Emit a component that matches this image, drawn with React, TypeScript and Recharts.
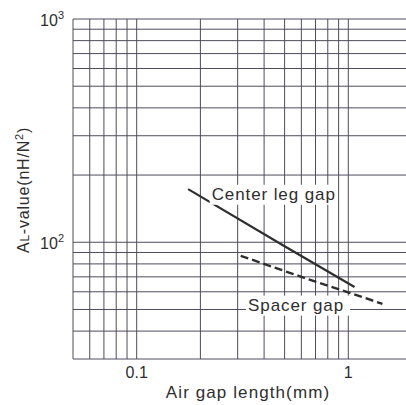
import {
  LineChart,
  Line,
  XAxis,
  YAxis,
  CartesianGrid,
  ReferenceDot,
  Label,
} from 'recharts'

// gap length (mm) vs AL-value (nH/N^2)
const centerGapLength = [0.175, 0.5, 1.07]
const centerGapAL = [173, 96, 63]
const spacerGapLength = [0.31, 0.6, 1.45]
const spacerGapAL = [87, 70, 53]

const xTicks = [0.05, 0.06, 0.07, 0.08, 0.09, 0.1, 0.2, 0.3, 0.4, 0.5, 0.6, 0.7, 0.8, 0.9, 1, 2]
const yTicks = [30, 40, 50, 60, 70, 80, 90, 100, 200, 300, 400, 500, 600, 700, 800, 900, 1000]
const xTickLabels: Record<string, string> = { '0.1': '0.1', '1': '1' }
const yTickExponents: Record<string, string> = { '100': '2', '1000': '3' }

const centerData = centerGapLength.map((x, i) => ({ x, y: centerGapAL[i] }))
const spacerData = spacerGapLength.map((x, i) => ({ x, y: spacerGapAL[i] }))

const FONT = '"Liberation Sans", Arial, sans-serif'
const INK = '#2e2e2e'
const GRID = '#4f4b5a'

function XTick({ x, y, payload }: any) {
  const label = xTickLabels[String(payload.value)]
  if (!label) return null
  return (
    <text x={x} y={y} dy={19} textAnchor="middle" fontSize={16} fill={INK} fontFamily={FONT}>
      {label}
    </text>
  )
}

function YTick({ x, y, payload }: any) {
  const exp = yTickExponents[String(payload.value)]
  if (!exp) return null
  return (
    <text x={x - 9} y={y} dy={6.5} textAnchor="end" fontSize={16} fill={INK} fontFamily={FONT}>
      <tspan>10</tspan>
      <tspan dy={-7} fontSize={11}>{exp}</tspan>
    </text>
  )
}

function boxedText(text: string, width: number) {
  return (props: any) => {
    const { cx, cy } = props
    return (
      <g>
        <rect x={cx - 2} y={cy - 15} width={width} height={20} fill="#fff" />
        <text x={cx} y={cy} fontSize={17} letterSpacing={0.9} fill={INK} fontFamily={FONT}>
          {text}
        </text>
      </g>
    )
  }
}

export default function App() {
  return (
    <div
      style={{
        position: 'absolute',
        top: 0,
        left: 0,
        width: 406,
        height: 405,
        overflow: 'hidden',
        background: '#fff',
      }}
    >
      <LineChart width={430} height={405} margin={{ top: 19, right: 18, left: 0, bottom: 0 }}>
        <CartesianGrid stroke={GRID} strokeWidth={1} />
        <XAxis
          dataKey="x"
          type="number"
          scale="log"
          domain={[0.05, 2]}
          ticks={xTicks}
          allowDataOverflow
          axisLine={false}
          tickLine={false}
          tickSize={0}
          tickMargin={0}
          height={46}
          tick={<XTick />}
          interval={0}
        >
          <Label
            content={() => (
              <text x={248} y={398} textAnchor="middle" fontSize={17} letterSpacing={1.1} fill={INK} fontFamily={FONT}>
                Air gap length(mm)
              </text>
            )}
          />
        </XAxis>
        <YAxis
          dataKey="y"
          type="number"
          scale="log"
          domain={[30, 1000]}
          ticks={yTicks}
          allowDataOverflow
          axisLine={false}
          tickLine={false}
          tickSize={0}
          tickMargin={0}
          width={73}
          tick={<YTick />}
          interval={0}
        >
          <Label
            content={() => (
              <text
                x={29}
                y={190}
                transform="rotate(-90 29 190)"
                textAnchor="middle"
                fontSize={16}
                letterSpacing={0.8}
                fill={INK}
                fontFamily={FONT}
              >
                <tspan>A</tspan>
                <tspan fontSize={12}>L</tspan>
                <tspan>-value(nH/N</tspan>
                <tspan dy={-6} fontSize={11}>2</tspan>
                <tspan dy={6}>)</tspan>
              </text>
            )}
          />
        </YAxis>
        <ReferenceDot x={0.226} y={155} r={0} shape={boxedText('Center leg gap', 126)} />
        <ReferenceDot x={0.336} y={49.4} r={0} shape={boxedText('Spacer gap', 104)} />
        <Line
          data={centerData}
          dataKey="y"
          stroke={INK}
          strokeWidth={2.2}
          dot={false}
          isAnimationActive={false}
        />
        <Line
          data={spacerData}
          dataKey="y"
          stroke={INK}
          strokeWidth={2.4}
          strokeDasharray="8 4"
          dot={false}
          isAnimationActive={false}
        />
      </LineChart>
    </div>
  )
}
